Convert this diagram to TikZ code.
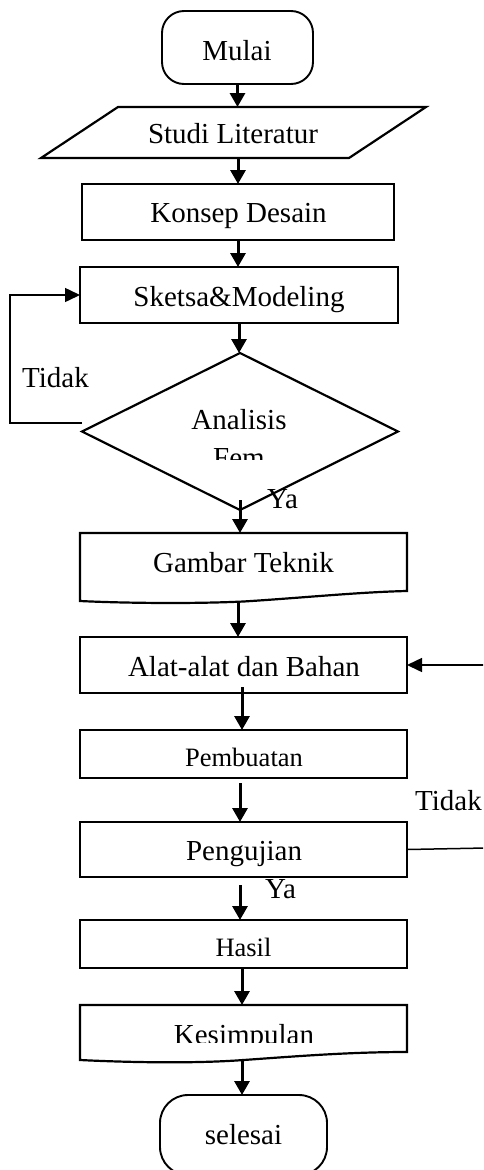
\documentclass[tikz,border=0pt]{standalone}
\usepackage{fontspec}
\setmainfont{Liberation Serif}
\usetikzlibrary{arrows.meta,shapes.geometric}
\begin{document}
\begin{tikzpicture}[x=1pt,y=-1pt,
  box/.style={draw,line width=2.2pt,rectangle,inner sep=0pt,outer sep=0pt,minimum width=327pt},
  term/.style={draw,line width=1.9pt,rectangle,inner sep=0pt,outer sep=0pt},
  ghost/.style={rectangle,inner sep=0pt,outer sep=0pt},
  shapeline/.style={line width=2.2pt,line join=miter},
  lbl/.style={anchor=base,inner sep=0pt,font=\fontsize{29}{34}\selectfont},
  lblw/.style={anchor=base west,inner sep=0pt,font=\fontsize{29}{34}\selectfont},
  lblsm/.style={anchor=base,inner sep=0pt,font=\fontsize{26.5}{31}\selectfont},
  arr/.style={line width=3pt,-{Triangle[width=15pt,length=14pt]}},
  thinarr/.style={line width=1.5pt,-{Triangle[width=14pt,length=15pt]}},
  thinline/.style={line width=1.5pt}]
\clip (0,0) rectangle (483,1170);
\fill[white] (0,0) rectangle (483,1170);

% shapes
\node[term,rounded corners=22pt,minimum width=151pt,minimum height=73pt] (mulai) at (237.5,47.5) {};
\node[ghost,minimum width=385pt,minimum height=51pt] (studi) at (233.5,132.5) {};
\draw[shapeline] (118,107) -- (426,107) -- (349,158) -- (41,158) -- cycle;
\node[box,minimum width=312pt,minimum height=56pt] (konsep) at (238,212) {};
\node[box,minimum width=318pt,minimum height=56pt] (sketsa) at (239,295) {};
\node[draw,diamond,line width=2.2pt,inner sep=0pt,outer sep=0pt,minimum width=316pt,minimum height=157pt] (ana) at (240,431.5) {};
\node[ghost,minimum width=327pt,minimum height=68pt] (gam) at (243.5,567) {};
\draw[shapeline] (80,533) -- (407,533) -- (407,591) .. controls (360,592) and (300,598) .. (243.5,601.5) .. controls (190,604) and (120,603) .. (80,601) -- cycle;
\node[box,minimum height=56pt] (alat) at (243.5,665) {};
\node[box,minimum height=48pt] (pemb) at (243.5,754) {};
\node[box,minimum height=55pt] (peng) at (243.5,849.5) {};
\node[box,minimum height=48pt] (hasil) at (243.5,944) {};
\node[ghost,minimum width=327pt,minimum height=55pt] (kes) at (243.5,1032.5) {};
\draw[shapeline] (80,1005) -- (407,1005) -- (407,1052) .. controls (350,1052) and (300,1056) .. (243.5,1060) .. controls (190,1064) and (120,1062) .. (80,1060) -- cycle;
\node[term,rounded corners=28pt,minimum width=167pt,minimum height=80pt] (selesai) at (243.5,1135) {};

% texts
\node[lbl] (tmulai) at (237,60) {Mulai};
\node[lbl] (tstudi) at (233,143) {Studi Literatur};
\node[lbl] (tkonsep) at (238.5,222) {Konsep Desain};
\node[lbl] (tsketsa) at (239,306) {Sketsa\&Modeling};
\node[lbl] (tana) at (239,429) {Analisis};
\begin{scope}
\clip (0,0) rectangle (483,459);
\node[lbl] (tfem) at (239,467) {Fem};
\end{scope}
\node[lbl] (tgam) at (243.5,572) {Gambar Teknik};
\node[lbl] (talat) at (244,676) {Alat-alat dan Bahan};
\node[lblsm] (tpemb) at (244,766) {Pembuatan};
\node[lbl] (tpeng) at (244,860) {Pengujian};
\node[lblsm] (thasil) at (243.5,956) {Hasil};
\begin{scope}
\clip (0,0) rectangle (483,1042);
\node[lbl] (tkes) at (244,1044) {Kesimpulan};
\end{scope}
\node[lbl] (tsel) at (243.5,1144) {selesai};
\node[lblw] (tidak1) at (22,387) {Tidak};
\node[lblw] (ya1) at (267,508) {Ya};
\node[lblw] (tidak2) at (415,810) {Tidak};
\node[lblw] (ya2) at (265,898) {Ya};

% connectors
\draw[arr] (mulai.south) -- (mulai.south |- studi.north);
\draw[arr] (studi.south -| konsep.north) -- (konsep.north);
\draw[arr] (konsep.south) -- (konsep.south |- sketsa.north);
\draw[arr] (sketsa.south) -- (sketsa.south |- ana.north);
\draw[arr] ([yshift=10pt]ana.south) -- (ana.south |- gam.north);
\draw[arr] ([xshift=-5.5pt]gam.south) -- ([xshift=-5.5pt]alat.north);
\draw[arr] ([xshift=-1.5pt,yshift=6pt]alat.south) -- ([xshift=-1.5pt]pemb.north);
\draw[arr] ([xshift=-3.5pt,yshift=-5pt]pemb.south) -- ([xshift=-3.5pt]peng.north);
\draw[arr] ([xshift=-3.5pt,yshift=-8pt]peng.south) -- ([xshift=-3.5pt]hasil.north);
\draw[arr] ([xshift=-1.5pt]hasil.south) -- ([xshift=-1.5pt]kes.north);
\draw[arr] ([xshift=-1.5pt]kes.south) -- ([xshift=-1.5pt]kes.south |- selesai.north);

\coordinate (fb) at (10,423);
\draw[thinarr] ([yshift=8.5pt]ana.west) -- (fb) |- (sketsa.west);
\coordinate (r1) at (486,665);
\draw[thinarr] (r1) -- (alat.east);
\coordinate (r2) at (486,848);
\draw[thinline] (peng.east) -- (r2);
\end{tikzpicture}
\end{document}
